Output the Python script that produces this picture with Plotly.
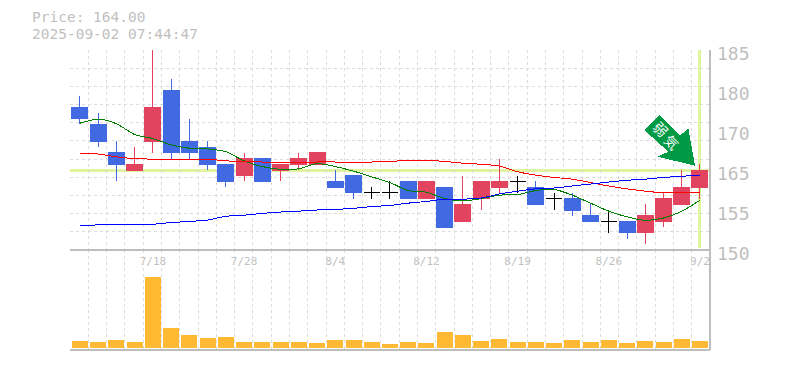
import plotly.graph_objects as go

dates = ["7/14","7/15","7/16","7/17","7/18","7/22","7/23","7/24","7/25","7/28","7/29","7/30","7/31","8/1","8/4",
         "8/5","8/6","8/7","8/8","8/12","8/13","8/14","8/15","8/18","8/19","8/20","8/21","8/22","8/25","8/26",
         "8/27","8/28","8/29","9/1","9/2"]
opens = [175,172,167,164,169,178,169,168,165,163,166,164,165,165,162,163,160,160,162,159,161,155,159,161,162,161,159,159,156,155,155,153,155,158,161]
highs = [177,174,169,168,192,180,173,169,165,167,166,165,167,167,164,163,161,162,162,162,161,163,162,166,163,162,160,160,158,157,155,158,160,164,165]
lows  = [172,168,162,164,167,166,166,164,161,162,162,162,164,165,161,159,159,159,159,159,154,155,157,160,160,158,157,156,155,153,152,151,154,158,159]
closes= [173,169,165,165,175,167,167,165,162,166,162,165,166,167,161,160,160,160,159,162,154,158,162,162,162,158,159,157,155,155,153,156,159,161,164]
ma_short = [172.2,172.9,172.1,170.2,169.5,168.4,167.8,167.7,167.2,165.6,164.6,164.1,164.2,165.1,164.6,163.8,162.8,161.8,160.4,160.1,159.0,158.6,159.0,159.6,159.7,160.4,160.6,159.6,158.2,156.8,155.8,155.2,155.6,156.8,158.7]
ma_mid = [166.8,166.8,166.3,166.0,165.9,165.9,165.9,165.9,165.6,165.5,165.4,165.3,165.3,165.4,165.4,165.4,165.4,165.5,165.7,165.7,165.5,165.2,165.0,164.7,163.7,163.1,162.7,162.4,161.8,161.2,160.7,160.3,160.0,160.0,160.0]
ma_long = [154.2,154.4,154.4,154.4,154.5,154.8,155.0,155.25,155.9,156.1,156.4,156.65,156.8,157.0,157.1,157.3,157.6,157.8,158.2,158.5,158.9,158.9,159.1,159.8,160.3,160.7,160.85,161.2,161.55,161.9,162.2,162.4,162.7,162.9,163.1]
volumes = [7,6,8,6,71,20,13,10,11,6,6,6,6,5,8,8,6,4,6,5,16,13,7,9,6,6,5,8,6,8,5,7,6,9,7]
price_ticks = [150,157,164,171,178,185]
price_labels = ["150","155","165","170","180","185"]
label_idx = [4,9,14,19,24,29,34]
current_price = 164.0
price_text = "Price: 164.00"
stamp_text = "2025-09-02 07:44:47"

UP="#E2435F"; DOWN="#4169E1"; GRID="#dcdcdc"; AXIS="#bdbdbd"; TXT="#bfbfbf"; FONT="DejaVu Sans Mono"; LIME="#E0F4A0"
n=len(dates); idx=list(range(n))
x0,x1=-0.548,34.55
y0,y1=150,185
xgrid=[x0+k*(x1-x0)/35 for k in range(36)]
ygrid=[y0+k*(y1-y0)/11 for k in range(12)]
W,H=785,370
def sel(cond):
    s=[i for i in idx if cond(i)]
    return dict(x=s,open=[opens[i] for i in s],high=[highs[i] for i in s],low=[lows[i] for i in s],close=[closes[i] for i in s])
def candle(d,inc,dec):
    return go.Candlestick(**d,increasing=dict(line=dict(color=inc,width=1),fillcolor=inc),
        decreasing=dict(line=dict(color=dec,width=1),fillcolor=dec),whiskerwidth=0,xaxis="x",yaxis="y",showlegend=False,hoverinfo="skip")
fig=go.Figure()
fig.add_trace(candle(sel(lambda i:closes[i]!=opens[i]),UP,DOWN))
fig.add_trace(candle(sel(lambda i:closes[i]==opens[i]),"#000000","#000000"))
for vals,c in ((ma_short,"#008000"),(ma_mid,"#ff0000"),(ma_long,"#0000ff")):
    fig.add_trace(go.Scatter(x=idx,y=vals,mode="lines",line=dict(color=c,width=1,shape="spline",smoothing=0.8),showlegend=False,hoverinfo="skip",xaxis="x",yaxis="y"))
fig.add_trace(go.Bar(x=idx,y=volumes,base=0,marker=dict(color="#FFB933",line_width=0),width=16/18.235,xaxis="x2",yaxis="y2",showlegend=False,hoverinfo="skip"))

minor=dict(tickvals=xgrid,showgrid=True,gridcolor=GRID,griddash="3px,3px",gridwidth=1,ticklen=0)
fig.update_layout(
    width=W,height=H,margin=dict(l=70,r=75,t=50,b=20,autoexpand=False),paper_bgcolor="white",plot_bgcolor="white",
    showlegend=False,boxgap=1-16/18.235,boxgroupgap=0,boxmode="overlay",
    xaxis=dict(domain=[0,1],range=[x0,x1],tickmode="array",tickvals=label_idx,ticktext=[dates[i] for i in label_idx],automargin=False,
        showgrid=False,zeroline=False,showline=False,ticks="",rangeslider=dict(visible=False),minor=minor,
        tickfont=dict(family=FONT,size=11,color=TXT),anchor="y",ticklabelstandoff=3),
    yaxis=dict(domain=[0.3333,1],range=[y0,y1],side="right",tickmode="array",tickvals=price_ticks,ticktext=price_labels,automargin=False,
        showgrid=False,zeroline=False,showline=False,ticks="",anchor="x",ticklabelstandoff=6,ticklabelshift=4,
        minor=dict(tickvals=ygrid,showgrid=True,gridcolor=GRID,griddash="3px,3px",gridwidth=1,ticklen=0),
        tickfont=dict(family=FONT,size=18,color=TXT)),
    xaxis2=dict(domain=[0,1],range=[x0,x1],showticklabels=False,showgrid=False,zeroline=False,ticks="",minor=minor,anchor="y2",automargin=False),
    yaxis2=dict(domain=[0,0.3333],range=[-2,98],showticklabels=False,showgrid=False,zeroline=False,ticks="",anchor="x2",automargin=False),
    shapes=[
        dict(type="line",xref="paper",yref="y",x0=0,x1=1,y0=current_price,y1=current_price,line=dict(color=LIME,width=3),layer="below"),
        dict(type="line",xref="x",yref="y",x0=idx[-1],x1=idx[-1],y0=y0+0.4,y1=y1,line=dict(color=LIME,width=3),layer="below"),
        dict(type="line",xref="paper",yref="paper",x0=0,x1=1,y0=0.3333,y1=0.3333,line=dict(color=AXIS,width=2),layer="above"),
        dict(type="line",xref="paper",yref="paper",x0=0,x1=1,y0=0,y1=0,line=dict(color=AXIS,width=2),layer="above"),
        dict(type="line",xref="paper",yref="paper",x0=1,x1=1,y0=0,y1=1,line=dict(color=AXIS,width=2),layer="above"),
        dict(type="path",xref="paper",yref="paper",layer="above",fillcolor="#009944",line=dict(width=0),
             path="M %f %f L %f %f L %f %f L %f %f L %f %f L %f %f L %f %f Z"%tuple(v for p in
              [(660,115),(644.3,130),(668.3,151.7),(657.7,156.7),(695,165.7),(688.3,128.3),(680,135.7)]
              for v in ((p[0]-70)/640,(350-p[1])/300))),
    ],
    annotations=[
        dict(text=price_text,xref="paper",yref="paper",x=(30-70)/640,y=(350-17.5)/300,xanchor="left",yanchor="middle",showarrow=False,font=dict(family=FONT,size=14.5,color=TXT)),
        dict(text=stamp_text,xref="paper",yref="paper",x=(30-70)/640,y=(350-33.5)/300,xanchor="left",yanchor="middle",showarrow=False,font=dict(family=FONT,size=14.5,color=TXT)),
        dict(text="弱",xref="paper",yref="paper",x=(661-70)/640,y=(350-129)/300,xanchor="center",yanchor="middle",showarrow=False,textangle=45,font=dict(family="Noto Sans CJK JP, Noto Sans CJK SC, sans-serif",size=14,color="#ffffff")),
        dict(text="気",xref="paper",yref="paper",x=(672-70)/640,y=(350-142)/300,xanchor="center",yanchor="middle",showarrow=False,textangle=45,font=dict(family="Noto Sans CJK JP, Noto Sans CJK SC, sans-serif",size=14,color="#ffffff")),
    ],
)
post="document.body.style.margin='0';var s=document.createElement('style');s.textContent='svg .shapelayer path,svg .trace path,svg .xy path{shape-rendering:crispEdges}';document.head.appendChild(s);"
fig.write_html("out.html",config=dict(displayModeBar=False),post_script=post)
